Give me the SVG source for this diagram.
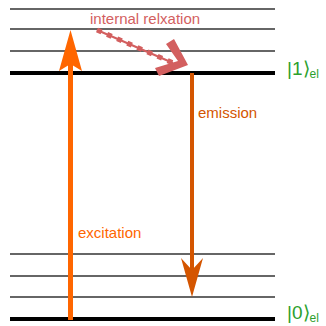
<svg xmlns="http://www.w3.org/2000/svg" width="326" height="326" viewBox="0 0 326 326">
<style>
.lv{stroke:#666;stroke-width:2}
.gs{stroke:#000;stroke-width:4}
.t{font-family:"Liberation Sans",Arial,sans-serif;font-size:15px}
.k{font-family:"Liberation Sans",Arial,sans-serif;fill:#2ca02c}
</style>
<rect width="326" height="326" fill="#fff"/>
<g id="levels">
<line class="lv" x1="10" y1="9" x2="275" y2="9"/>
<line class="lv" x1="10" y1="29" x2="275" y2="29"/>
<line class="lv" x1="10" y1="51" x2="275" y2="51"/>
<line class="gs" x1="10" y1="73" x2="275" y2="73"/>
<line class="lv" x1="10" y1="254" x2="275" y2="254"/>
<line class="lv" x1="10" y1="276" x2="275" y2="276"/>
<line class="lv" x1="10" y1="297" x2="275" y2="297"/>
<line class="gs" x1="10" y1="319" x2="275" y2="319"/>
</g>
<g id="label-1"><text class="k" x="287" y="75" font-size="19">|1⟩<tspan font-size="12" dy="3">el</tspan></text></g>
<g id="label-0"><text class="k" x="287" y="319" font-size="19">|0⟩<tspan font-size="12" dy="3">el</tspan></text></g>
<g id="connectors">
<g id="excitation">
<line x1="70.5" y1="320" x2="70.5" y2="62" stroke="#ff6600" stroke-width="5"/>
<polygon points="70.5,30 82,71 70.5,64 59,71" fill="#ff6600"/>
<text class="t" x="78" y="238" fill="#ff6600">excitation</text>
</g>
<g id="emission">
<line x1="192" y1="73" x2="192" y2="270" stroke="#d45500" stroke-width="4"/>
<polygon points="192,297 181,258 192,270 203,258" fill="#d45500"/>
<text class="t" x="198" y="118" fill="#d45500">emission</text>
</g>
<g id="relaxation">
<line x1="97" y1="30" x2="173" y2="63" stroke="#d35f5f" stroke-width="2"/>
<line x1="97" y1="30" x2="173" y2="63" stroke="#d35f5f" stroke-width="5" stroke-dasharray="5,6"/>
<polygon points="166,44 174,39 188,65 159,76 155,68 178,61" fill="#d35f5f"/>
<text class="t" x="90" y="24" fill="#d35f5f">internal relxation</text>
</g>
</g>
</svg>
